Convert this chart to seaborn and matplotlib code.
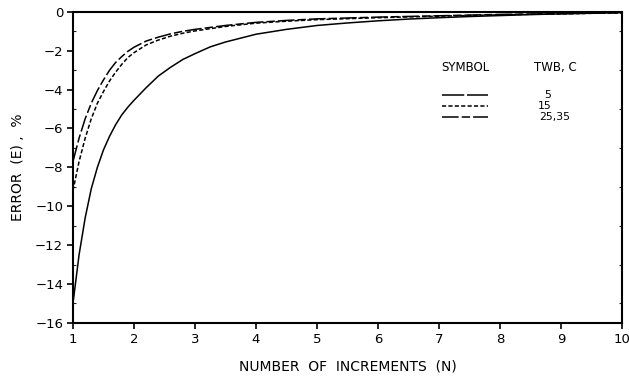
import numpy as np
import pandas as pd
import matplotlib
matplotlib.use("Agg")
import matplotlib.pyplot as plt
from matplotlib.lines import Line2D
from matplotlib.ticker import MultipleLocator
import seaborn as sns

# ---- data ----
n_5 = [1.0, 1.1, 1.2, 1.3, 1.4, 1.5, 1.6, 1.7, 1.8, 1.9, 2.0, 2.2, 2.4, 2.6, 2.8, 3.0,
       3.25, 3.5, 3.75, 4.0, 4.5, 5.0, 5.5, 6.0, 6.5, 7.0, 7.5, 8.0, 8.5, 9.0, 9.5, 10.0]
err_5 = [-15.0, -12.5, -10.6, -9.1, -8.0, -7.1, -6.4, -5.8, -5.3, -4.9, -4.55, -3.9, -3.3,
         -2.85, -2.45, -2.15, -1.8, -1.55, -1.35, -1.15, -0.9, -0.7, -0.57, -0.46, -0.37,
         -0.3, -0.24, -0.19, -0.14, -0.1, -0.07, -0.04]
n_15 = [1.0, 1.1, 1.2, 1.3, 1.4, 1.5, 1.6, 1.7, 1.8, 1.9, 2.0, 2.2, 2.4, 2.6, 2.8, 3.0,
        3.5, 4.0, 4.5, 5.0, 6.0, 7.0, 8.0, 9.0, 10.0]
err_15 = [-9.2, -7.7, -6.5, -5.5, -4.7, -4.1, -3.55, -3.1, -2.7, -2.35, -2.1, -1.7, -1.45,
          -1.25, -1.1, -0.98, -0.75, -0.58, -0.48, -0.4, -0.3, -0.22, -0.15, -0.1, -0.05]
n_25_35 = [1.0, 1.1, 1.2, 1.3, 1.4, 1.5, 1.6, 1.7, 1.8, 1.9, 2.0, 2.2, 2.4, 2.6, 2.8, 3.0,
           3.5, 4.0, 4.5, 5.0, 6.0, 7.0, 8.0, 9.0, 10.0]
err_25_35 = [-7.7, -6.5, -5.5, -4.7, -4.05, -3.5, -3.0, -2.6, -2.3, -2.03, -1.82, -1.5, -1.3,
             -1.13, -1.0, -0.9, -0.7, -0.54, -0.44, -0.36, -0.27, -0.2, -0.13, -0.09, -0.04]
series_labels = ["5", "15", "25,35"]
x_ticks = [1, 2, 3, 4, 5, 6, 7, 8, 9, 10]
y_ticks = [0, -2, -4, -6, -8, -10, -12, -14, -16]

df = pd.DataFrame({
    "N": n_5 + n_15 + n_25_35,
    "E": err_5 + err_15 + err_25_35,
    "TWB": [series_labels[0]] * len(n_5) + [series_labels[1]] * len(n_15)
           + [series_labels[2]] * len(n_25_35),
})

sns.set_theme(style="white")
plt.rcParams["font.family"] = ["DejaVu Sans"]
plt.rcParams["lines.scale_dashes"] = False
plt.rcParams["text.color"] = "black"
plt.rcParams["axes.labelcolor"] = "black"

fig = plt.figure(figsize=(6.29, 3.83), dpi=100)
ax = fig.add_axes([0.116, 0.157, 0.873, 0.812])

dash_map = {"5": "", "15": (3.0, 1.6), "25,35": (12, 2.2, 6, 2.2)}
sns.lineplot(data=df, x="N", y="E", hue="TWB", style="TWB",
             palette=["black"] * 3, dashes=dash_map, linewidth=1.1,
             legend=False, ax=ax, sort=True)

ax.set_xlim(1, 10)
ax.set_ylim(-16, 0)
ax.set_xticks(x_ticks)
ax.set_yticks(y_ticks)
ax.set_xticklabels([str(t) for t in x_ticks], fontsize=9.5)
ax.set_yticklabels([("\u2212" + str(-t)) if t < 0 else str(t) for t in y_ticks], fontsize=9.5)
ax.yaxis.set_minor_locator(MultipleLocator(1))
ax.tick_params(axis="both", which="major", direction="out", length=4, width=1.2,
               color="black", labelcolor="black", pad=3, left=True, bottom=True)
ax.tick_params(axis="y", which="minor", direction="in", length=2.5, width=0.8,
               left=True, right=True)
for s in ax.spines.values():
    s.set_color("black")
    s.set_linewidth(1.5)

ax.set_xlabel("NUMBER  OF  INCREMENTS  (N)", fontsize=10, labelpad=10, color="black")
ax.set_ylabel("ERROR  (E) ,  %", fontsize=10, labelpad=7, color="black")

# ---- manual legend ----
tr = ax.transAxes
ax.text(0.67, 0.82, "SYMBOL", transform=tr, fontsize=8.5, ha="left", va="center")
ax.text(0.84, 0.82, "TWB, C", transform=tr, fontsize=8.5, ha="left", va="center")
leg_styles = [(0, (16, 2)), (0, (3.0, 1.6)), (0, (12, 2.2, 6, 2.2))]
ys = [0.732, 0.697, 0.662]
for lab, ls, yy in zip(series_labels, leg_styles, ys):
    ax.add_line(Line2D([0.672, 0.755], [yy, yy], transform=tr, color="black",
                       linewidth=1.1, linestyle=ls))
ax.text(0.871, ys[0], series_labels[0], transform=tr, fontsize=7.8, ha="right", va="center")
ax.text(0.871, ys[1], series_labels[1], transform=tr, fontsize=7.8, ha="right", va="center")
ax.text(0.849, ys[2], series_labels[2], transform=tr, fontsize=7.8, ha="left", va="center")

fig.savefig("out.png", dpi=100, facecolor="white")
